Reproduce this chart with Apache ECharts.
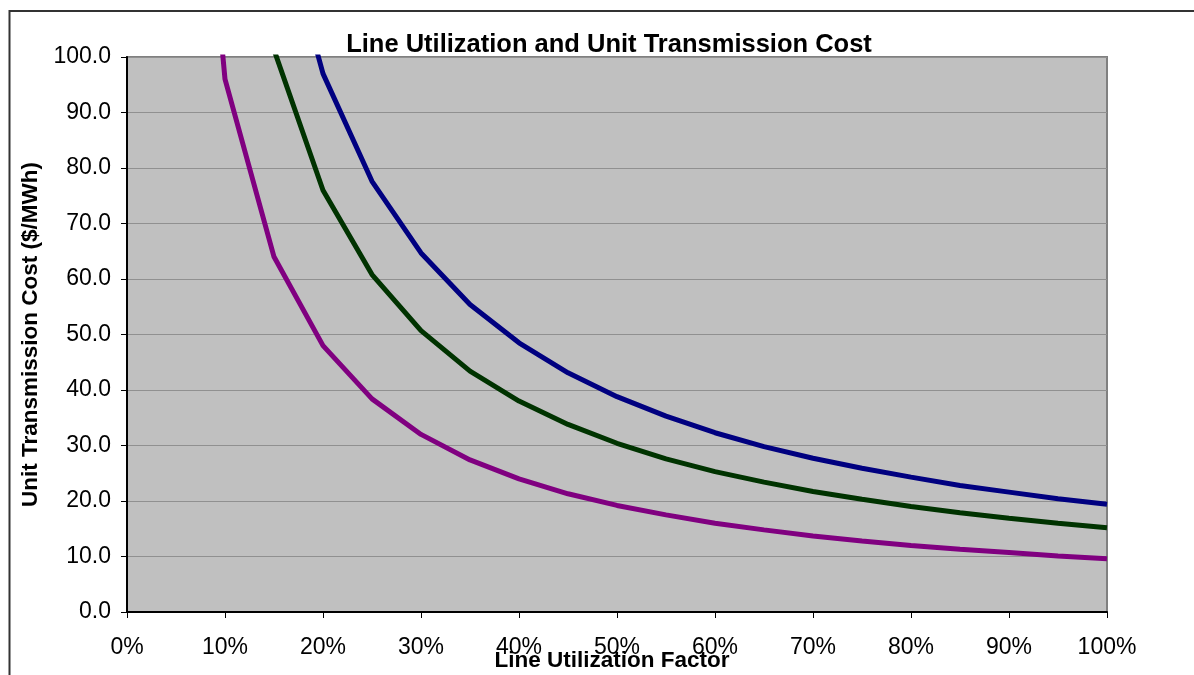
<!DOCTYPE html>
<html>
<head>
<meta charset="utf-8">
<script src="https://cdn.jsdelivr.net/npm/echarts@6/dist/echarts.min.js"></script>
<style>
  html, body { margin: 0; padding: 0; background: #fff; overflow: hidden; }
  #main { width: 1194px; height: 675px; }
</style>
</head>
<body>
<div id="main"></div>
<script>
// utilization factor (%) for each point
var utilization = [5, 10, 15, 20, 25, 30, 35, 40, 45, 50, 55, 60, 65, 70, 75, 80, 85, 90, 95, 100];

// unit cost ($/MWh), one value per utilization step
var purpleCost = [192, 96, 64, 48, 38.4, 32, 27.4, 24, 21.3, 19.2, 17.5, 16, 14.8, 13.7, 12.8, 12, 11.3, 10.7, 10.1, 9.6];
var greenCost  = [304, 152, 101.3, 76, 60.8, 50.7, 43.4, 38, 33.8, 30.4, 27.6, 25.3, 23.4, 21.7, 20.3, 19, 17.9, 16.9, 16, 15.2];
var blueCost   = [388, 194, 129.3, 97, 77.6, 64.7, 55.4, 48.5, 43.1, 38.8, 35.3, 32.3, 29.8, 27.7, 25.9, 24.3, 22.8, 21.6, 20.4, 19.4];

function pairs(ys) {
    var out = [];
    for (var i = 0; i < utilization.length; i++) {
        out.push([utilization[i], ys[i]]);
    }
    return out;
}

var font = '"Liberation Sans", Arial, sans-serif';

var myChart = echarts.init(document.getElementById('main'));

function lineSeries(name, color, ys) {
    return {
        name: name,
        type: 'line',
        data: pairs(ys),
        symbol: 'none',
        clip: true,
        lineStyle: { color: color, width: 5 },
        itemStyle: { color: color },
        z: 3
    };
}

var option = {
    animation: false,
    backgroundColor: '#fff',
    title: {
        text: 'Line Utilization and Unit Transmission Cost',
        left: 604,
        textAlign: 'center',
        top: 27,
        textStyle: { fontFamily: font, fontSize: 25.5, fontWeight: 'bold', color: '#000' }
    },
    // outer chart frame: only its top and left edges fall inside the picture
    graphic: [{
        type: 'polyline',
        shape: { points: [[9.5, 675], [9.5, 11], [1194, 11]] },
        style: { stroke: '#333', lineWidth: 2, fill: null },
        silent: true,
        z: 100
    }],
    grid: {
        left: 127,
        right: 87,
        top: 57,
        bottom: 63,
        outerBoundsMode: 'none',
        containLabel: false,
        show: true,
        backgroundColor: '#c0c0c0',
        borderColor: '#808080',
        borderWidth: 2
    },
    xAxis: {
        type: 'value',
        min: 0,
        max: 100,
        interval: 10,
        name: 'Line Utilization Factor',
        nameLocation: 'middle',
        nameGap: 37,
        nameMoveOverlap: false,
        nameTextStyle: { fontFamily: font, fontSize: 22.5, fontWeight: 'bold', color: '#000', padding: [0, 10, 0, 0] },
        axisLine: { show: true, lineStyle: { color: '#000', width: 2 } },
        axisTick: { show: true, inside: false, length: 6, lineStyle: { color: '#000', width: 1 } },
        axisLabel: {
            fontFamily: font, fontSize: 23, color: '#000', margin: 24,
            formatter: function (v) { return v + '%'; }
        },
        splitLine: { show: false }
    },
    yAxis: {
        type: 'value',
        min: 0,
        max: 100,
        interval: 10,
        name: 'Unit Transmission Cost ($/MWh)',
        nameLocation: 'middle',
        nameGap: 85,
        nameMoveOverlap: false,
        nameTextStyle: { fontFamily: font, fontSize: 22.5, fontWeight: 'bold', color: '#000' },
        axisLine: { show: true, lineStyle: { color: '#000', width: 2 } },
        axisTick: { show: true, inside: false, length: 6, lineStyle: { color: '#000', width: 1 } },
        axisLabel: {
            fontFamily: font, fontSize: 23, color: '#000', margin: 16,
            formatter: function (v) { return v.toFixed(1); }
        },
        splitLine: { show: true, lineStyle: { color: '#909090', width: 1 } }
    },
    series: [
        lineSeries('Blue', '#000080', blueCost),
        lineSeries('Green', '#003300', greenCost),
        lineSeries('Purple', '#800080', purpleCost)
    ]
};

myChart.setOption(option);
</script>
</body>
</html>
